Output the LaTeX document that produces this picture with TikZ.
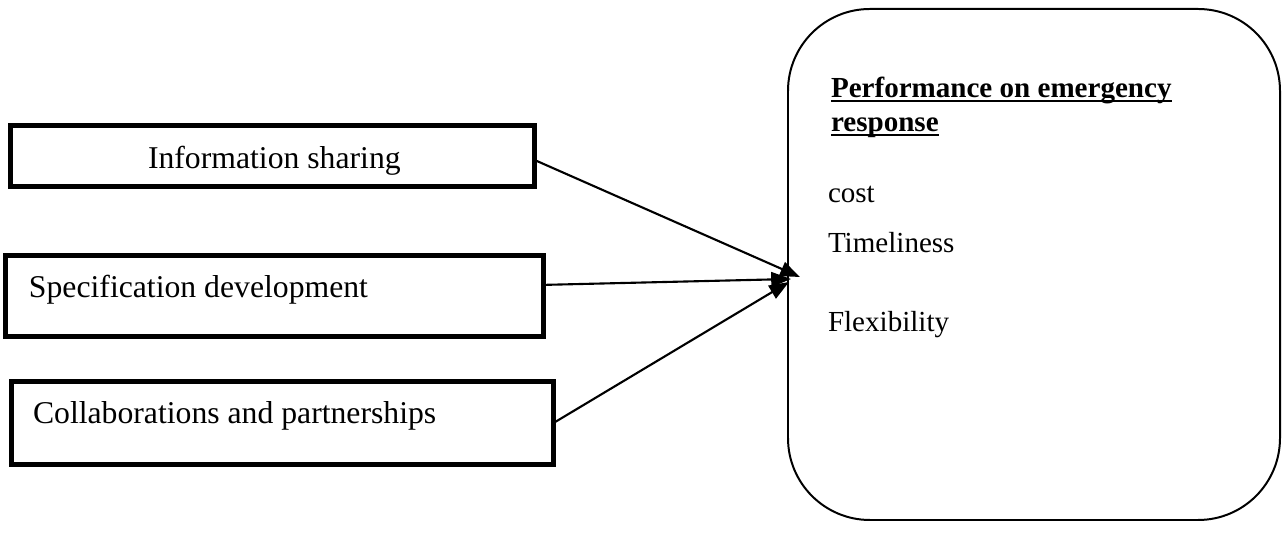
\documentclass[tikz,border=0pt]{standalone}
\usepackage{fontspec}
\setmainfont{Liberation Serif}
\usetikzlibrary{arrows.meta}
\begin{document}
\begin{tikzpicture}[x=0.3785pt,y=-0.3785pt,
  box/.style={draw, line width=1.9pt, inner sep=0pt, outer sep=0pt},
  bigbox/.style={draw, line width=0.75pt, inner sep=0pt, outer sep=0pt, rounded corners=31pt},
  lbl/.style={inner sep=0pt, outer sep=0pt, anchor=base west, font=\fontsize{12}{14}\selectfont},
  rlbl/.style={inner sep=0pt, outer sep=0pt, anchor=base west, font=\fontsize{11}{13}\selectfont},
  hlbl/.style={rlbl, font=\fontsize{11}{13}\selectfont\bfseries},
  conn/.style={line width=0.8pt, -{Triangle[length=7.5pt,width=5.6pt]}},
  uline/.style={line width=0.7pt}]
\useasboundingbox (0,0) rectangle (1288,536);
% boxes
\node[box, minimum width={524*0.3785pt}, minimum height={61*0.3785pt}] (b1) at (272.5,156) {};
\node[box, minimum width={538*0.3785pt}, minimum height={81*0.3785pt}] (b2) at (274.5,296) {};
\node[box, minimum width={542*0.3785pt}, minimum height={83*0.3785pt}] (b3) at (282.5,423) {};
\node[bigbox, minimum width={492*0.3785pt}, minimum height={511*0.3785pt}] (perf) at (1034,264.5) {};
% left texts
\node[lbl] (t1) at (148,169) {Information sharing};
\node[lbl] (t2) at (29,298) {Specification development};
\node[lbl] (t3) at (33,424) {Collaborations and partnerships};
% right texts
\node[hlbl] (h1) at (831,98) {Performance on emergency};
\node[hlbl] (h2) at (831,132) {response};
\draw[uline] ([yshift=-1.2pt]h1.base west) -- ([yshift=-1.2pt]h1.base east);
\draw[uline] ([yshift=-1.2pt]h2.base west) -- ([yshift=-1.2pt]h2.base east);
\node[rlbl] (c1) at (828,203) {cost};
\node[rlbl] (c2) at (828,253) {Timeliness};
\node[rlbl] (c3) at (828,332) {Flexibility};
% arrow ends
\coordinate (e1) at (800,277);
\coordinate (e2) at (791,279);
\coordinate (e3) at (789,282);
\draw[conn] ([yshift=-1.5pt]b1.east) -- (e1);
\draw[conn] ([yshift=4.2pt]b2.east) -- (e2);
\draw[conn] (b3.east) -- (e3);
\end{tikzpicture}
\end{document}
